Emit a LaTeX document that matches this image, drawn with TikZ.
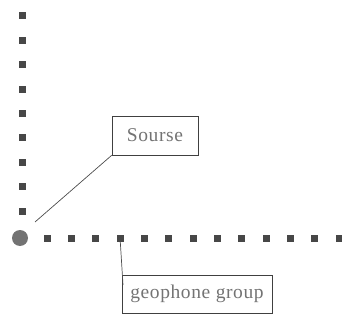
\documentclass[tikz,border=0pt]{standalone}
\usepackage{fontspec}
\setmainfont{Liberation Serif}[LetterSpace=3]
\begin{document}
\begin{tikzpicture}[x=1pt,y=-1pt,
  sq/.style={fill=black!72,draw=none,minimum size=7pt,inner sep=0pt,outer sep=0pt},
  src/.style={circle,fill=black!55,draw=none,minimum size=16pt,inner sep=0pt},
  lbl/.style={draw=black!75,line width=0.7pt,text=black!55,font=\fontsize{19.5}{20}\selectfont,inner sep=0pt},
  conn/.style={draw=black!70,line width=0.7pt}]
\useasboundingbox (0,0) rectangle (342,320);
\foreach \i in {0,...,8}{
  \node[sq] (v\i) at (22,{16+24.4*\i}) {};
}
\foreach \i in {0,...,12}{
  \node[sq] (h\i) at ({47+24.35*\i},238) {};
}
\node[src] (s) at (20,238) {};
\node[lbl,minimum width=86pt,minimum height=39pt] (sourse) at (155,135.5) {Sourse};
\node[lbl,minimum width=150pt,minimum height=38pt] (geo) at (197,294) {geophone group};
\coordinate (se) at (35,222);
\coordinate (ge) at (123,285);
\draw[conn] (sourse.south west) -- (se);
\draw[conn] (h3.center) -- (ge);
\end{tikzpicture}
\end{document}
